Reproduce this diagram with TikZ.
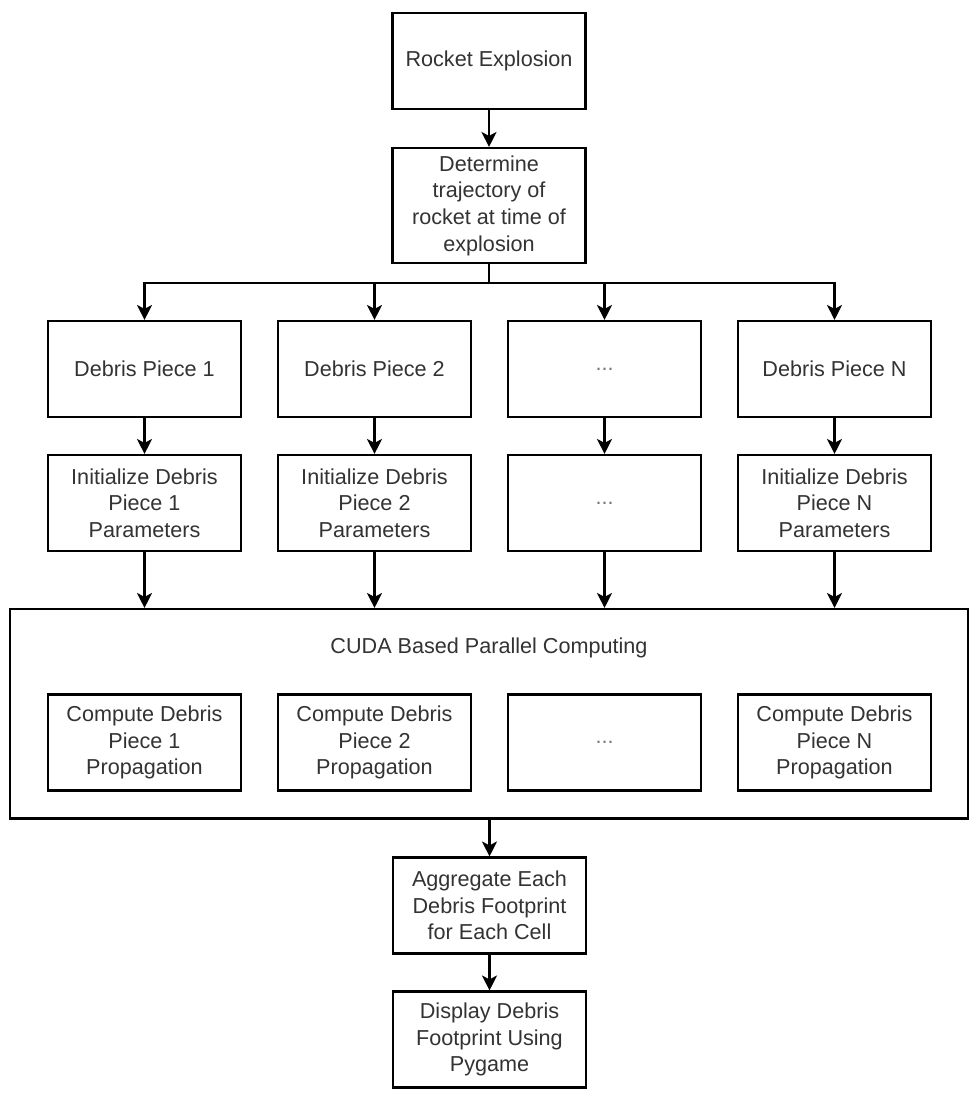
\documentclass[tikz,border=0pt]{standalone}
\usepackage{fontspec}
\setmainfont{Liberation Sans}
\usetikzlibrary{arrows.meta,positioning}
\definecolor{txtGray}{HTML}{333333}
\definecolor{dotGray}{HTML}{777777}
\tikzset{
  box/.style={draw=black,line width=1.2pt,fill=white,minimum width=3.86cm,minimum height=1.92cm,
    align=center,inner sep=2pt,font=\fontsize{12.3}{15.2}\selectfont\color{txtGray}},
  arr/.style={line width=1.2pt,-{Stealth[length=0.3cm,width=0.3cm,inset=0.08cm]}},
  lnk/.style={line width=1.2pt}
}

\begin{document}
\begin{tikzpicture}[x=0.02cm,y=-0.02cm]
  \useasboundingbox (0,0) rectangle (971,1094);

  % top of the chain
  \node[box] (rocket) at (489,61) {Rocket Explosion};
  \node[box,minimum height=2.3cm] (traj) at (489,205.5) {Determine\\trajectory of\\rocket at time of\\explosion};
  \coordinate (split) at (489,283);

  % one column per debris piece
  \node[box] (piece1) at (144.5,369) {Debris Piece 1};
  \node[box] (piece2) at (374.5,369) {Debris Piece 2};
  \node[box,font=\fontsize{12.3}{15.2}\selectfont\color{dotGray}] (pieceDots) at (604.5,369) {...};
  \node[box] (pieceN) at (834.5,369) {Debris Piece N};

  \node[box] (init1) at (144.5,503) {Initialize Debris\\Piece 1\\Parameters};
  \node[box] (init2) at (374.5,503) {Initialize Debris\\Piece 2\\Parameters};
  \node[box,font=\fontsize{12.3}{15.2}\selectfont\color{dotGray}] (initDots) at (604.5,503) {...};
  \node[box] (initN) at (834.5,503) {Initialize Debris\\Piece N\\Parameters};

  % parallel block
  \node[box,minimum width=19.16cm,minimum height=4.19cm] (cuda) at (489,713.75) {};
  \node[font=\fontsize{12.3}{15.2}\selectfont\color{txtGray}] (cudaLabel) at (489,648) {CUDA Based Parallel Computing};

  \node[box] (comp1) at (144.5,742.5) {Compute Debris\\Piece 1\\Propagation};
  \node[box] (comp2) at (374.5,742.5) {Compute Debris\\Piece 2\\Propagation};
  \node[box,font=\fontsize{12.3}{15.2}\selectfont\color{dotGray}] (compDots) at (604.5,742.5) {...};
  \node[box] (compN) at (834.5,742.5) {Compute Debris\\Piece N\\Propagation};

  % output
  \node[box] (aggregate) at (489.5,905.5) {Aggregate Each\\Debris Footprint\\for Each Cell};
  \node[box] (display) at (489.5,1039.5) {Display Debris\\Footprint Using\\Pygame};

  % connectors
  \draw[arr] (rocket) -- (traj);
  \draw[lnk] (traj.south) -- (split);
  \draw[arr] (split) -| (piece1.north);
  \draw[arr] (split) -| (piece2.north);
  \draw[arr] (split) -| (pieceDots.north);
  \draw[arr] (split) -| (pieceN.north);

  \draw[arr] (piece1) -- (init1);
  \draw[arr] (piece2) -- (init2);
  \draw[arr] (pieceDots) -- (initDots);
  \draw[arr] (pieceN) -- (initN);

  \draw[arr] (init1.south) -- (init1.south |- cuda.north);
  \draw[arr] (init2.south) -- (init2.south |- cuda.north);
  \draw[arr] (initDots.south) -- (initDots.south |- cuda.north);
  \draw[arr] (initN.south) -- (initN.south |- cuda.north);

  \draw[arr] (cuda.south -| aggregate.north) -- (aggregate.north);
  \draw[arr] (aggregate) -- (display);
\end{tikzpicture}
\end{document}
